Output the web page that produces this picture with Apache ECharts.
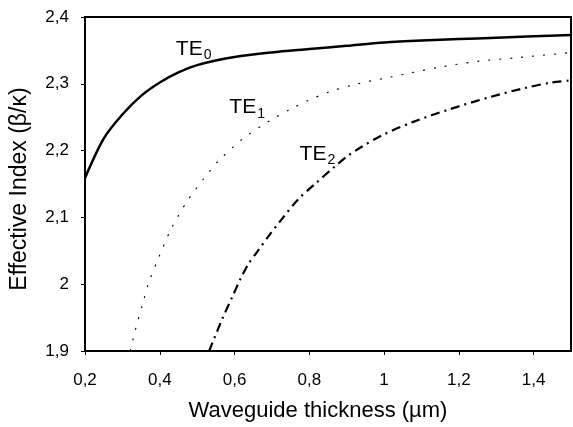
<!DOCTYPE html>
<html>
<head>
<meta charset="utf-8">
<script src="https://cdn.jsdelivr.net/npm/echarts@6/dist/echarts.min.js"></script>
<style>html,body{margin:0;padding:0;background:#fff}#c{width:573px;height:427px}</style>
</head>
<body>
<div id="c"></div>
<script>
// Data
const te0X = [0.2,0.25,0.3,0.35,0.4,0.45,0.5,0.6,0.7,0.8,0.9,1.0,1.1,1.2,1.3,1.4,1.5];
const te0Y = [2.159,2.218,2.254,2.282,2.302,2.317,2.328,2.34,2.347,2.352,2.357,2.362,2.365,2.367,2.369,2.371,2.373];
const te1X = [0.321,0.334,0.356,0.369,0.398,0.429,0.473,0.536,0.563,0.625,0.695,0.753,0.797,0.854,0.929,1.008,1.15,1.256,1.353,1.467,1.5];
const te1Y = [1.9,1.93,1.974,2.0,2.041,2.081,2.124,2.171,2.188,2.219,2.245,2.263,2.275,2.288,2.3,2.309,2.325,2.334,2.339,2.345,2.347];
const te2X = [0.532,0.568,0.594,0.616,0.638,0.66,0.695,0.726,0.77,0.815,0.868,0.903,0.938,0.995,1.078,1.176,1.282,1.379,1.449,1.5];
const te2Y = [1.9,1.949,1.981,2.008,2.031,2.048,2.075,2.097,2.127,2.15,2.176,2.192,2.205,2.223,2.243,2.262,2.28,2.294,2.302,2.305];
const modeNames = ['TE', 'TE', 'TE'];
const modeSubs = ['0', '1', '2'];
const labelX = [0.443, 0.586, 0.774];
const labelY = [2.353, 2.265, 2.196];
const xTitle = 'Waveguide thickness (µm)';
const yTitle = 'Effective Index (β/κ)';

const FONT = "'Liberation Sans', Arial, Helvetica, sans-serif";
const zip = (a, b) => a.map((v, i) => [v, b[i]]);
const fmt = v => String(Math.round(v * 10) / 10).replace('.', ',');

const chart = echarts.init(document.getElementById('c'), null, {renderer: 'canvas'});
chart.setOption({
  animation: false,
  backgroundColor: '#fff',
  textStyle: {fontFamily: FONT},
  grid: {left: 81, right: 2, top: 17, bottom: 71, show: true, borderColor: '#000', borderWidth: 2, containLabel: false},
  xAxis: {
    type: 'value', min: 0.2, max: 1.5, interval: 0.2,
    name: xTitle, nameLocation: 'middle', nameGap: 49,
    nameTextStyle: {fontSize: 22, color: '#000', fontFamily: FONT, padding: [0, 20, 0, 0]},
    axisLine: {lineStyle: {color: '#000', width: 2}},
    axisTick: {show: true, length: 4, lineStyle: {color: '#000', width: 1}},
    axisLabel: {formatter: fmt, fontSize: 17, color: '#000', margin: 21, fontFamily: FONT, showMaxLabel: false},
    splitLine: {show: false}
  },
  yAxis: {
    type: 'value', min: 1.9, max: 2.4, interval: 0.1,
    name: yTitle, nameLocation: 'middle', nameGap: 54,
    nameTextStyle: {fontSize: 23, color: '#000', fontFamily: FONT, padding: [0, 10, 0, 0]},
    axisLine: {lineStyle: {color: '#000', width: 2}},
    axisTick: {show: true, length: 4, lineStyle: {color: '#000', width: 1}},
    axisLabel: {formatter: fmt, fontSize: 17, color: '#000', margin: 16, fontFamily: FONT},
    splitLine: {show: false}
  },
  series: [
    {type: 'line', data: zip(te0X, te0Y), smooth: 0.3, symbol: 'none', lineStyle: {color: '#000', width: 2.5}},
    {type: 'line', data: zip(te1X, te1Y), smooth: 0.3, symbol: 'none', lineStyle: {color: '#000', width: 1.1, type: [2, 9]}},
    {type: 'line', data: zip(te2X, te2Y), smooth: 0.3, symbol: 'none', lineStyle: {color: '#000', width: 2.2, type: [9, 5, 2, 5]}},
    {
      type: 'scatter', symbolSize: 0, silent: true,
      itemStyle: {opacity: 1, color: '#000'},
      data: labelX.map((x, i) => ({value: [x, labelY[i]], name: modeNames[i], sub: modeSubs[i]})),
      label: {
        show: true, position: 'right', distance: 0, color: '#000', opacity: 1,
        formatter: p => '{a|' + p.data.name + '}{b|' + p.data.sub + '}',
        rich: {
          a: {fontSize: 21, fontFamily: FONT, color: '#000', verticalAlign: 'bottom', lineHeight: 22},
          b: {fontSize: 14, fontFamily: FONT, color: '#000', verticalAlign: 'bottom', padding: [0, 0, -3, 1], lineHeight: 14}
        }
      }
    }
  ]
});
</script>
</body>
</html>
